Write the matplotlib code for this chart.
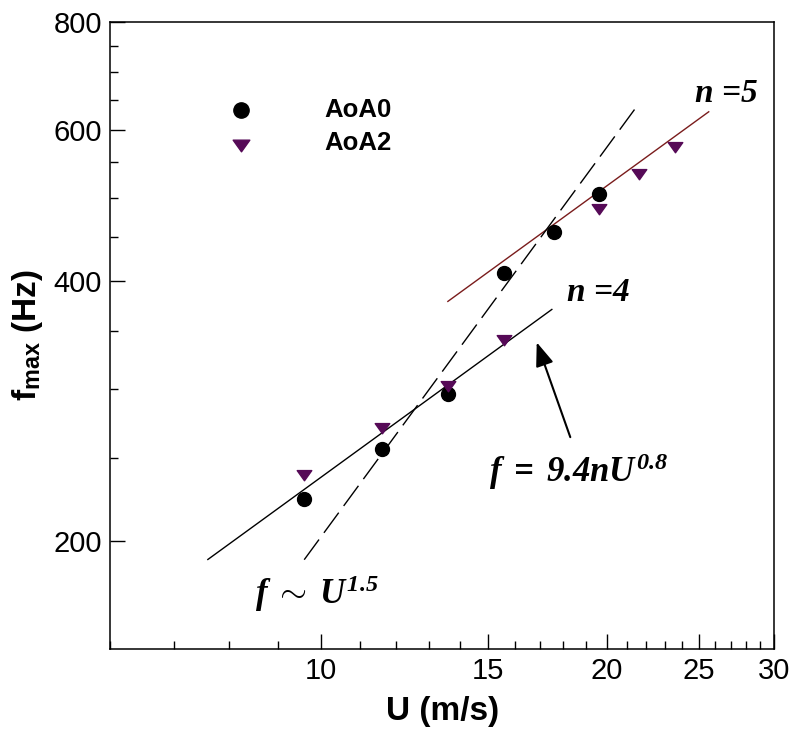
# -*- coding: utf-8 -*-

import matplotlib

matplotlib.use("Agg")
import matplotlib.pyplot as plt
import numpy as np
from matplotlib.path import Path as MarkerPath


# Peak frequency vs. free-stream velocity
U_AOA0 = [9.6, 11.6, 13.6, 15.6, 17.6, 19.6]
F_AOA0 = [224, 256, 296, 409, 456, 505]

U_AOA2 = [9.6, 11.6, 13.6, 15.6, 19.6, 21.6, 23.6]
F_AOA2 = [240, 272, 304, 344, 488, 535, 575]

# f = 9.4 n U^0.8, drawn for two mode numbers
FIT_COEF = 9.4
FIT_EXP = 0.8
N_MODES = [4, 5]
N_SPANS = [(7.6, 17.5), (13.6, 25.6)]
N_COLORS = ["black", "#7a1c1c"]

# reference slope f ~ U^1.5
REF_COEF = 6.4
REF_EXP = 1.5
REF_SPAN = (9.6, 21.4)

X_TICKS = [10, 15, 20, 25, 30]
Y_TICKS = [200, 400, 600, 800]

PURPLE = "#560a57"
TRI = MarkerPath([(-1, 0.4), (1, 0.4), (0, -1.0), (-1, 0.4)],
                 [MarkerPath.MOVETO, MarkerPath.LINETO, MarkerPath.LINETO, MarkerPath.CLOSEPOLY])


def setup_fonts():
    plt.rcParams["font.family"] = ["Liberation Sans", "DejaVu Sans"]
    plt.rcParams["mathtext.fontset"] = "custom"
    plt.rcParams["mathtext.rm"] = "Liberation Serif:bold:italic"
    plt.rcParams["mathtext.it"] = "Liberation Serif:bold:italic"
    plt.rcParams["mathtext.bf"] = "Liberation Serif:bold:italic"


def draw_fit_lines(ax):
    for n, (u0, u1), color in zip(N_MODES, N_SPANS, N_COLORS):
        u = np.array([u0, u1])
        ax.plot(u, FIT_COEF * n * u ** FIT_EXP, color=color, lw=1.0, zorder=2)

    u = np.array(REF_SPAN)
    ax.plot(u, REF_COEF * u ** REF_EXP, color="black", lw=1.0,
            dashes=(18, 6), zorder=2)


def draw_annotations(ax):
    serif = dict(family="Liberation Serif", weight="bold", style="italic")
    ax.text(26.7, 660, "n =5", fontsize=24, ha="center", va="center", **serif)
    ax.text(19.6, 388, "n =4", fontsize=24, ha="center", va="center", **serif)
    ax.text(18.7, 241, r"$f\;=\;9.4nU^{0.8}$", fontsize=25,
            ha="center", va="center")
    ax.text(9.9, 174, r"$f\;\sim\;U^{1.5}$", fontsize=25,
            ha="center", va="center")
    ax.annotate("", xy=(16.87, 340), xytext=(18.3, 264),
                arrowprops=dict(arrowstyle="-|>,head_length=1.45,head_width=0.55",
                                color="black", lw=1.5, shrinkA=0, shrinkB=0))


def draw_legend(ax):
    ax.plot([0.197], [0.860], "o", color="black", ms=11,
            transform=ax.transAxes, clip_on=False)
    ax.plot([0.197], [0.806], marker=TRI, color=PURPLE, ms=12, ls="none",
            transform=ax.transAxes, clip_on=False)
    ax.text(0.322, 0.860, "AoA0", transform=ax.transAxes, fontsize=18.5,
            fontweight="bold", va="center", ha="left")
    ax.text(0.322, 0.806, "AoA2", transform=ax.transAxes, fontsize=18.5,
            fontweight="bold", va="center", ha="left")


def style_axes(ax):
    ax.set_xscale("log")
    ax.set_yscale("log")
    ax.set_xlim(6, 30)
    ax.set_ylim(150, 800)

    ax.set_xticks(X_TICKS)
    ax.set_xticklabels([str(t) for t in X_TICKS])
    minor_x = [u for u in range(6, 30) if u not in X_TICKS]
    ax.set_xticks(minor_x, minor=True)
    ax.set_xticklabels([], minor=True)

    ax.set_yticks(Y_TICKS)
    ax.set_yticklabels([str(t) for t in Y_TICKS])
    minor_y = [f for f in range(250, 800, 50) if f not in Y_TICKS]
    ax.set_yticks(minor_y, minor=True)
    ax.set_yticklabels([], minor=True)

    ax.tick_params(which="both", direction="in", top=False, right=False,
                   labelsize=21, width=1.0, pad=6)
    ax.tick_params(which="major", length=11)
    ax.tick_params(which="minor", length=6)
    for spine in ax.spines.values():
        spine.set_linewidth(1.1)

    ax.set_xlabel("U (m/s)", fontsize=24, fontweight="bold", labelpad=8)
    ax.set_ylabel(r"f$_{\mathregular{max}}$ (Hz)", fontsize=24,
                  fontweight="bold", labelpad=6)


def main():
    setup_fonts()
    fig = plt.figure(figsize=(7.94, 7.33), dpi=100)
    ax = fig.add_axes([0.139, 0.1146, 0.836, 0.8558])

    draw_fit_lines(ax)
    ax.plot(U_AOA0, F_AOA0, "o", color="black", ms=10, zorder=3)
    ax.plot(U_AOA2, F_AOA2, marker=TRI, color=PURPLE, ms=10.5, ls="none", zorder=3)

    draw_annotations(ax)
    draw_legend(ax)
    style_axes(ax)

    fig.savefig("out.png", dpi=100)
    plt.close(fig)


if __name__ == "__main__":
    main()
